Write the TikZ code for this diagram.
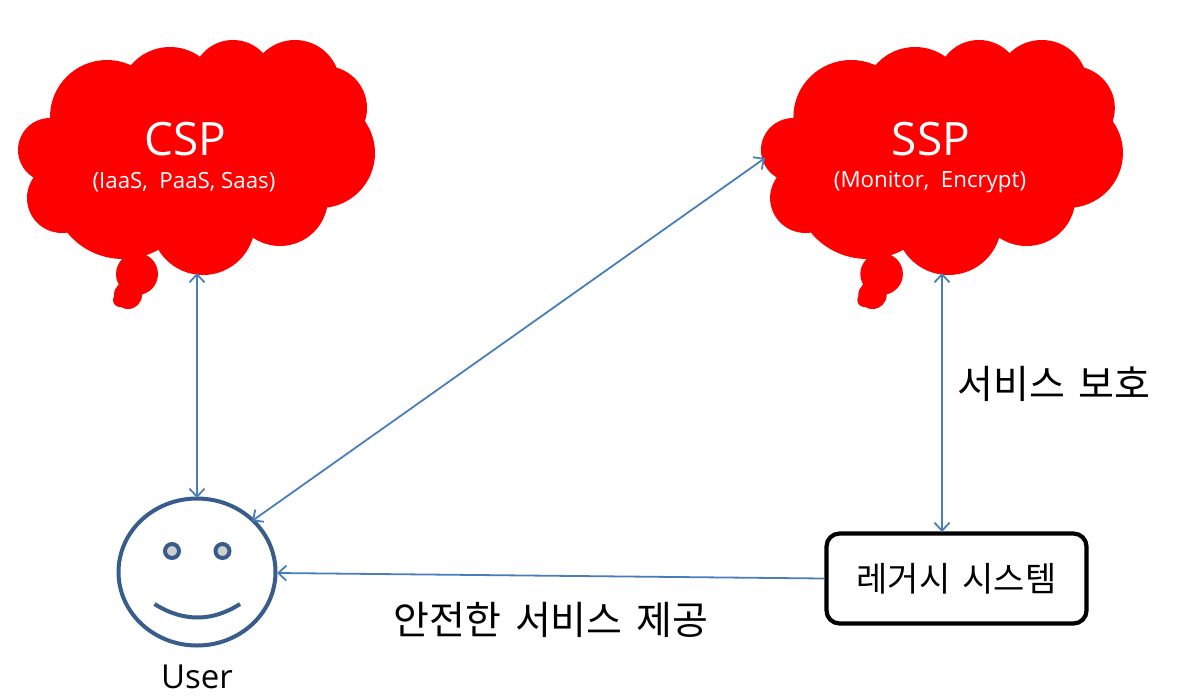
\documentclass[tikz,border=0pt]{standalone}
\usepackage{fontspec}
\usetikzlibrary{arrows.meta,shapes.geometric}
\setmainfont{Open Sans}
\newfontfamily\kor[WordSpace=1.6]{Noto Sans CJK KR}
\definecolor{cloudred}{RGB}{255,0,0}
\definecolor{linkblue}{RGB}{74,126,187}
\definecolor{facebl}{RGB}{56,93,138}
\tikzset{
  link/.style={draw=linkblue,line width=1.8pt,{Straight Barb[length=8pt,width=15pt,line width=1.8pt]}-{Straight Barb[length=8pt,width=15pt,line width=1.8pt]}},
  oneway/.style={draw=linkblue,line width=1.8pt,-{Straight Barb[length=8pt,width=15pt,line width=1.8pt]}},
  facepen/.style={draw=facebl,line width=4pt},
  eyeball/.style={circle,facepen,fill=black!19,minimum size=14pt,inner sep=0pt},
  label/.style={inner sep=0pt,text=black},
  title/.style={inner sep=0pt,text=white,font=\fontsize{46}{46}\selectfont},
  subtitle/.style={inner sep=0pt,text=white,font=\fontsize{22.3}{22.3}\selectfont}
}
\newcommand{\cloudshape}{%
  \fill[cloudred]
    (107,117) circle (57)
    (170,98) circle (51)
    (233,81) circle (41)
    (295,85) circle (45)
    (325,108) circle (42)
    (320,153) circle (55)
    (280,198) circle (48)
    (203,223) circle (52)
    (123,187) circle (72)
    (62,198) circle (35)
    (50,150) circle (32)
    (137,274) circle (21)
    (128,295) circle (14)
    (120,300) circle (7);
  \fill[cloudred] (70,90) rectangle (320,200);
}
\begin{document}
\begin{tikzpicture}[x=1pt,y=-1pt]
\useasboundingbox (0,0) rectangle (1185,699);
\fill[white] (0,0) rectangle (1185,699);
\begin{scope}
  \cloudshape
\end{scope}
\begin{scope}[shift={(742.7,0)},xscale=1.014]
  \cloudshape
\end{scope}
\node[title] (csp) at (185,139) {CSP};
\node[subtitle] (cspsub) at (184,182) {(IaaS,\ \ PaaS,\ Saas)};
\node[title] (ssp) at (931,139) {SSP};
\node[subtitle] (sspsub) at (930,182) {(Monitor,\ \ Encrypt)};
\coordinate (cspb) at (197,273);
\coordinate (sspb) at (942,273);
\coordinate (sspl) at (765,158);
% face
\node[draw=facebl,line width=4pt,ellipse,minimum width=157pt,minimum height=147pt,inner sep=0pt] (face) at (197,572) {};
\node[eyeball] (eyel) at (172,551) {};
\node[eyeball] (eyer) at (222.5,551) {};
\draw[facepen,line cap=butt] (154.5,604) .. controls (183,622) and (212,622) .. (240,604);
\coordinate (facet) at (197,498);
\coordinate (facer) at (277,573);
\coordinate (faced) at (252,521);
\node[label,font=\fontsize{33}{33}\selectfont] (user) at (197,677) {User};
\node[draw=black,line width=4.2pt,rounded corners=13pt,minimum width=260pt,minimum height=90pt,inner sep=0pt,font=\kor\fontsize{34}{34}\selectfont] (legacy) at (956.5,578.5) {레거시 시스템};
\coordinate (legt) at (942,532);
\draw[link] (cspb) -- (facet);
\draw[link] (sspl) -- (faced);
\draw[link] (sspb) -- (legt);
\draw[oneway] (legacy.west) -- (facer);
\node[label,font=\kor\fontsize{39}{39}\selectfont] (prot) at (1054,384) {서비스 보호};
\node[label,font=\kor\fontsize{39}{39}\selectfont] (safe) at (551,620) {안전한 서비스 제공};
\end{tikzpicture}
\end{document}
